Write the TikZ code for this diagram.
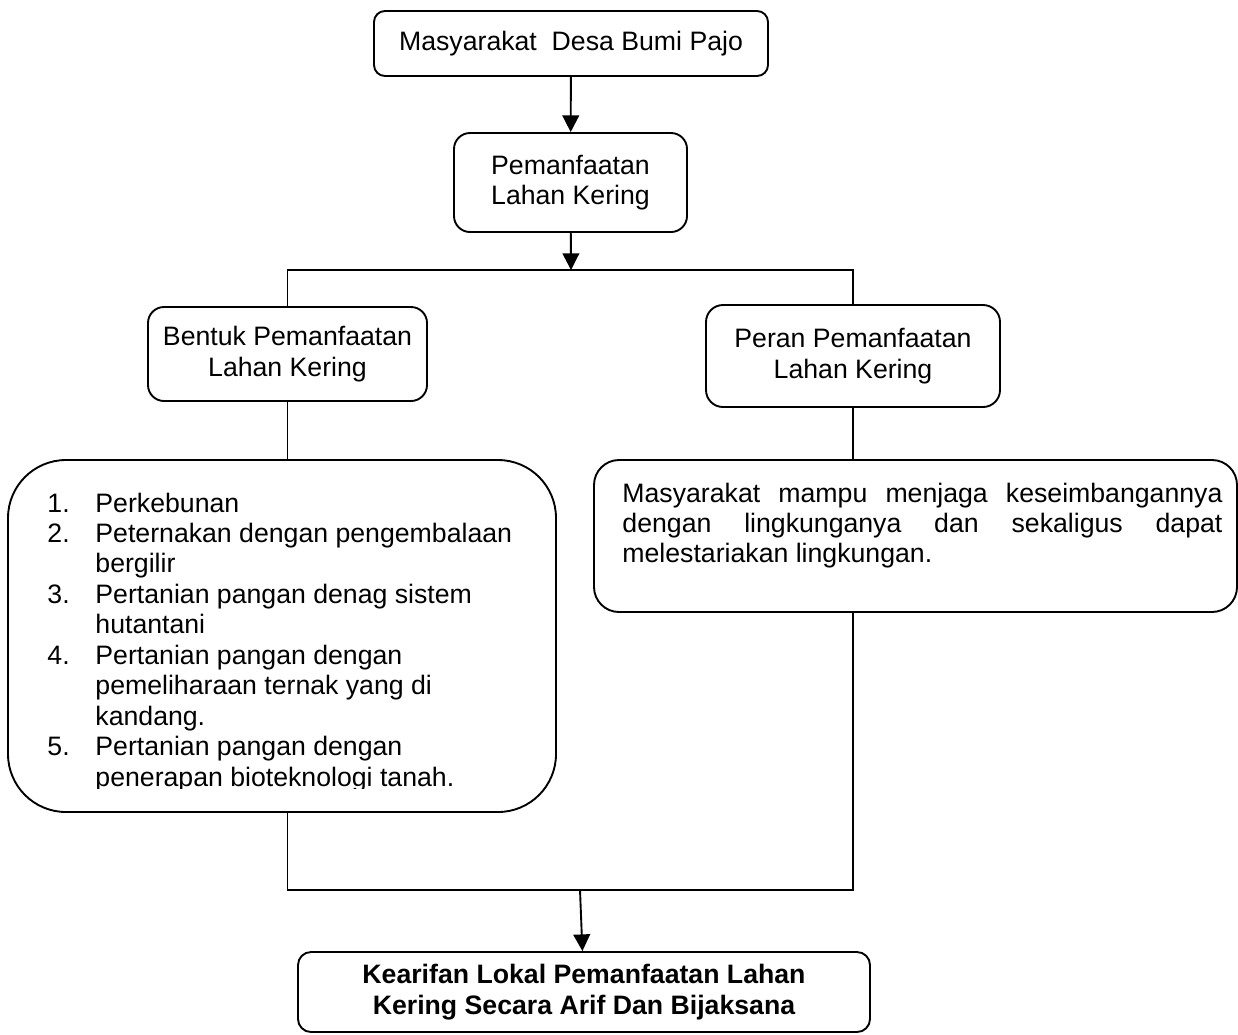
\documentclass[tikz,border=0pt]{standalone}
\usepackage{fontspec}
\setmainfont{Liberation Sans}
\usetikzlibrary{arrows.meta}

\begin{document}
\begin{tikzpicture}[x=0.45pt,y=-0.45pt,
	every node/.style={font=\fontsize{12}{13.7}\selectfont},
	kotak/.style={draw,line width=0.85pt,align=center,inner sep=0pt},
	garis/.style={line width=0.85pt},
	panah/.style={line width=0.85pt,-{Triangle[length=7.5pt,width=7.5pt]}}]
	\def\px{0.45pt}
	\useasboundingbox (0,0) rectangle (1238,1034);

	\node[kotak,minimum width=394*\px,minimum height=65*\px,rounded corners=11*\px] (desa) at (571,43.5) {Masyarakat\ \ Desa Bumi Pajo};
	\node[kotak,minimum width=233*\px,minimum height=99*\px,rounded corners=16*\px] (lahan) at (570.5,182.5) {Pemanfaatan\\Lahan Kering};
	\node[kotak,minimum width=279*\px,minimum height=94*\px,rounded corners=16*\px] (bentuk) at (287.5,354) {Bentuk Pemanfaatan\\Lahan Kering};
	\node[kotak,minimum width=294*\px,minimum height=102*\px,rounded corners=17*\px] (peran) at (853,356) {Peran Pemanfaatan\\Lahan Kering};
	\node[kotak,minimum width=548*\px,minimum height=352*\px,rounded corners=58*\px] (daftar) at (282,636) {};
	\node[kotak,minimum width=643*\px,minimum height=152*\px,rounded corners=25*\px] (hasil) at (915.5,536) {};
	\node[kotak,minimum width=572*\px,minimum height=80*\px,rounded corners=13*\px,font=\fontsize{12}{13.7}\selectfont\bfseries] (kearifan) at (584,992) {Kearifan Lokal Pemanfaatan Lahan\\Kering Secara Arif Dan Bijaksana};

	% isi kotak
	\begin{scope}
		\clip (0,460) rectangle (1238,788);
		\node[anchor=base west,inner sep=0pt] (daftarisi) at (47,512) {\begin{tabular}[t]{@{}p{21.6pt}@{}l@{}}
			1. & Perkebunan\\
			2. & Peternakan dengan pengembalaan\\
			& bergilir\\
			3. & Pertanian pangan denag sistem\\
			& hutantani\\
			4. & Pertanian pangan dengan\\
			& pemeliharaan ternak yang di\\
			& kandang.\\
			5. & Pertanian pangan dengan\\
			& penerapan bioteknologi tanah.
		\end{tabular}};
	\end{scope}
	\node[anchor=base west,inner sep=0pt] (hasilisi) at (622,502) {\parbox[t]{270pt}{\makebox[270pt][s]{Masyarakat mampu menjaga keseimbangannya}\\
		\makebox[270pt][s]{dengan lingkunganya dan sekaligus dapat}\\
		melestariakan lingkungan.}};

	\coordinate (cabang) at (571,270);
	\coordinate (gabung) at (580,890);
	\draw[panah] (desa) -- (lahan);
	\draw[panah] (lahan) -- (cabang);
	\draw[garis] (bentuk.north) -- (bentuk.north |- cabang) -- (peran.north |- cabang) -- (peran.north);
	\draw[garis] (bentuk.south) -- (bentuk.south |- daftar.north);
	\draw[garis] (peran.south) -- (peran.south |- hasil.north);
	\draw[garis] (bentuk.south |- daftar.south) -- (bentuk.south |- gabung) -- (peran.south |- gabung) -- (peran.south |- hasil.south);
	\draw[panah] (gabung) -- (kearifan);
\end{tikzpicture}
\end{document}
